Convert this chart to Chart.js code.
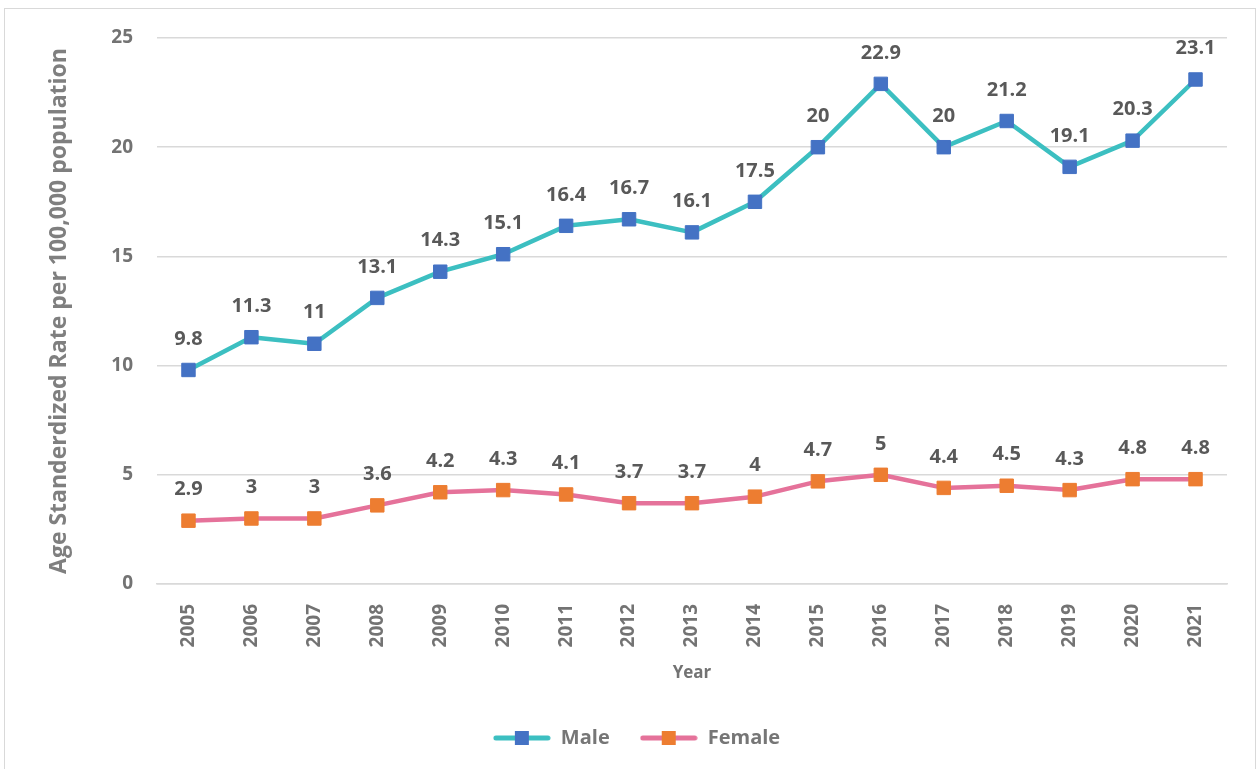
<!doctype html>
<html>
<head>
  <meta charset="utf-8" />
  <title>Age Standardized Rate</title>
  <style>
    body{margin:0;background:#fff;font-family:"Open Sans", Arial, sans-serif}
    .frame{position:absolute;left:4px;top:8px;width:1250px;height:780px;border:1px solid #d9d9d9}
    .wrap{position:absolute;left:0;top:0;width:1256px;height:769px}
  </style>
</head>
<body>
  <div class="frame"></div>
  <div class="wrap"><canvas id="rateChart"></canvas></div>

  <script src="https://cdn.jsdelivr.net/npm/chart.js@4.4.1/dist/chart.umd.min.js"></script>
  <script>
    const years  = ['2005','2006','2007','2008','2009','2010','2011','2012','2013','2014','2015','2016','2017','2018','2019','2020','2021'];
    const male   = [9.8, 11.3, 11, 13.1, 14.3, 15.1, 16.4, 16.7, 16.1, 17.5, 20, 22.9, 20, 21.2, 19.1, 20.3, 23.1];
    const female = [2.9, 3, 3, 3.6, 4.2, 4.3, 4.1, 3.7, 3.7, 4, 4.7, 5, 4.4, 4.5, 4.3, 4.8, 4.8];
    const yTicks = [0, 5, 10, 15, 20, 25];

    const FONT = '"Open Sans", Arial, sans-serif';
    const maleLine = '#3cbfc1', maleMark = '#4472c4';
    const femLine  = '#e5729a', femMark  = '#ed7d31';

    // legend swatch: line with a square marker on it
    function swatch(line, mark){
      const c = document.createElement('canvas');
      c.width = 58; c.height = 16;
      const g = c.getContext('2d');
      g.strokeStyle = line; g.lineWidth = 5; g.lineCap = 'round';
      g.beginPath(); g.moveTo(3, 8); g.lineTo(55, 8); g.stroke();
      g.fillStyle = mark; g.fillRect(22, 1, 14, 14);
      return c;
    }
    const swatches = [swatch(maleLine, maleMark), swatch(femLine, femMark)];

    // value labels above each point
    const pointLabels = {
      id: 'pointLabels',
      afterDatasetsDraw(chart){
        const ctx = chart.ctx;
        ctx.save();
        ctx.font = 'bold 20px ' + FONT;
        ctx.fillStyle = '#595959';
        ctx.textAlign = 'center';
        ctx.textBaseline = 'middle';
        chart.data.datasets.forEach((ds, i) => {
          chart.getDatasetMeta(i).data.forEach((pt, j) => {
            ctx.fillText(String(ds.data[j]), pt.x, pt.y - 31);
          });
        });
        ctx.restore();
      }
    };

    new Chart(document.getElementById('rateChart'), {
      type: 'line',
      data: {
        labels: years,
        datasets: [
          { label: 'Male', data: male, borderColor: maleLine, backgroundColor: maleMark,
            pointBackgroundColor: maleMark, pointBorderColor: maleMark },
          { label: 'Female', data: female, borderColor: femLine, backgroundColor: femMark,
            pointBackgroundColor: femMark, pointBorderColor: femMark }
        ]
      },
      options: {
        responsive: true,
        maintainAspectRatio: false,
        animation: false,
        layout: { padding: { left: 46, right: 29, top: 38, bottom: 11 } },
        elements: {
          line: { borderWidth: 4.5, tension: 0, borderJoinStyle: 'round', borderCapStyle: 'round' },
          point: { pointStyle: 'rect', radius: 9.5, borderWidth: 1, hoverRadius: 9.5 }
        },
        plugins: {
          tooltip: { enabled: false },
          legend: {
            position: 'bottom',
            labels: {
              usePointStyle: true,
              pointStyleWidth: 58,
              padding: 30,
              color: '#767676',
              font: { family: FONT, size: 20, weight: 'bold' },
              generateLabels(chart){
                const items = Chart.defaults.plugins.legend.labels.generateLabels(chart);
                items.forEach((it, i) => { it.pointStyle = swatches[i]; });
                return items;
              }
            }
          }
        },
        scales: {
          x: {
            offset: true,
            grid: { display: false },
            border: { display: true, color: '#d9d9d9', width: 1.5 },
            ticks: { minRotation: 90, maxRotation: 90, padding: 12, color: '#737373',
                     font: { family: FONT, size: 19, weight: 'bold' } },
            title: { display: true, text: 'Year', color: '#737373', padding: { top: 0, bottom: 15 },
                     font: { family: FONT, size: 17, weight: 'bold' } },
            afterFit(scale){ scale.height = 114; }
          },
          y: {
            min: 0, max: 25,
            afterBuildTicks(scale){ scale.ticks = yTicks.map(v => ({ value: v })); },
            grid: { color: '#d9d9d9', lineWidth: 1.5, drawTicks: false },
            border: { display: false },
            ticks: { padding: 24, color: '#737373',
                     font: { family: FONT, size: 19, weight: 'bold' } },
            title: { display: true, text: 'Age Standerdized Rate per 100,000 population', color: '#7f7f7f', padding: 0,
                     font: { family: FONT, size: 23, weight: 'bold' } },
            afterFit(scale){ scale.width = 111; }
          }
        }
      },
      plugins: [pointLabels]
    });
  </script>
</body>
</html>
